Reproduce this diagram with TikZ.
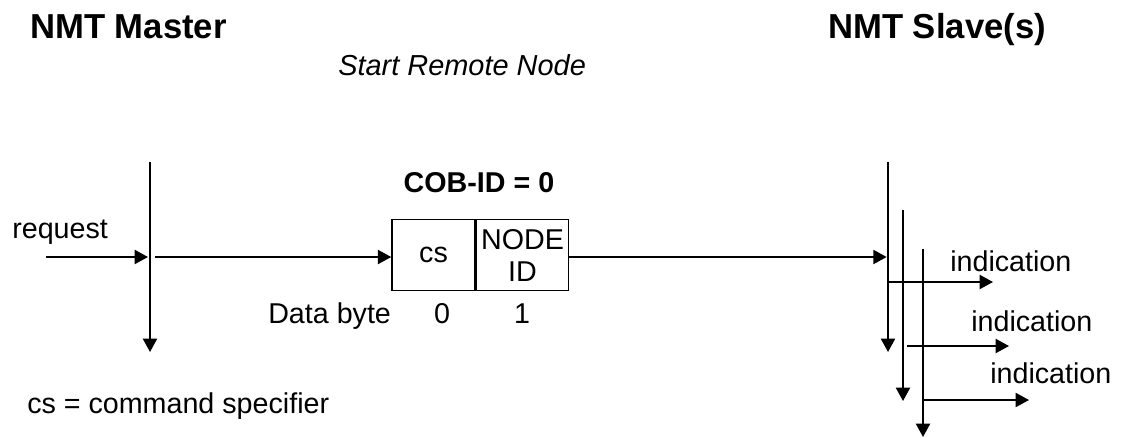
\documentclass[tikz,border=0pt]{standalone}
\usepackage{fontspec}
\setmainfont{Liberation Sans}
\usetikzlibrary{arrows.meta}

\begin{document}
\begin{tikzpicture}[x=0.75pt, y=-0.75pt]
\tikzstyle{heading}=[anchor=base west, inner sep=0pt, font=\fontsize{26}{30}\selectfont\bfseries]
\tikzstyle{txt}=[anchor=base west, inner sep=0pt, font=\fontsize{21.5}{24}\selectfont]
\tikzstyle{cell}=[draw, line width=1.1pt, minimum height=53.25pt, inner sep=0pt, align=center, font=\fontsize{21.5}{24}\selectfont]
\tikzstyle{life}=[line width=1.5pt, -{Triangle[length=10pt, width=10.5pt]}]
\tikzstyle{msg}=[line width=1.5pt, -{Triangle[length=10pt, width=10.5pt]}]
\useasboundingbox (0,0) rectangle (1130,437);

\node[heading] (master) at (30,38) {NMT Master};
\node[heading] (slave) at (828,38) {NMT Slave(s)};
\node[txt, font=\fontsize{21.7}{24}\selectfont\itshape] (service) at (338,75) {Start Remote Node};

\node[cell, minimum width=62.25pt] (cs) at (433.5,255) {cs};
\node[cell, minimum width=69pt, anchor=west] (nid) at (cs.east) {NODE\\ID};
\node[txt, anchor=base, font=\fontsize{21.5}{24}\selectfont\bfseries] (cobid) at (479,192) {COB-ID = 0};
\node[txt] (databyte) at (268,323) {Data byte};
\node[txt, anchor=base] (b0) at (442,323) {0};
\node[txt, anchor=base] (b1) at (522,323) {1};

\node[txt] (req) at (12,238) {request};
\node[txt] (legend) at (27,413) {cs = command specifier};
\node[txt] (ind1) at (950,271) {indication};
\node[txt] (ind2) at (971,331) {indication};
\node[txt] (ind3) at (990,383) {indication};

\coordinate (m0) at (150,162);
\coordinate (m1) at (150,352);
\coordinate (s0) at (888,162);
\coordinate (s1) at (888,352);
\coordinate (t0) at (903,210);
\coordinate (t1) at (903,401);
\coordinate (u0) at (923,249);
\coordinate (u1) at (923,437);
\coordinate (rq) at (46,257);
\coordinate (gap) at (155,257);
\coordinate (a1) at (888,282);
\coordinate (e1) at (993,282);
\coordinate (a2) at (907,346);
\coordinate (e2) at (1009,346);
\coordinate (a3) at (923,400);
\coordinate (e3) at (1029,400);

\draw[life] (m0) -- (m1);
\draw[life] (s0) -- (s1);
\draw[life] (t0) -- (t1);
\draw[life] (u0) -- (u1);

\draw[msg, shorten >=1.5pt] (rq) -- (rq -| m0);
\draw[msg] (gap) -- (gap -| cs.west);
\draw[msg, shorten >=1pt] (gap -| nid.east) -- (gap -| s0);
\draw[msg] (a1) -- (e1);
\draw[msg] (a2) -- (e2);
\draw[msg] (a3) -- (e3);

\end{tikzpicture}
\end{document}
